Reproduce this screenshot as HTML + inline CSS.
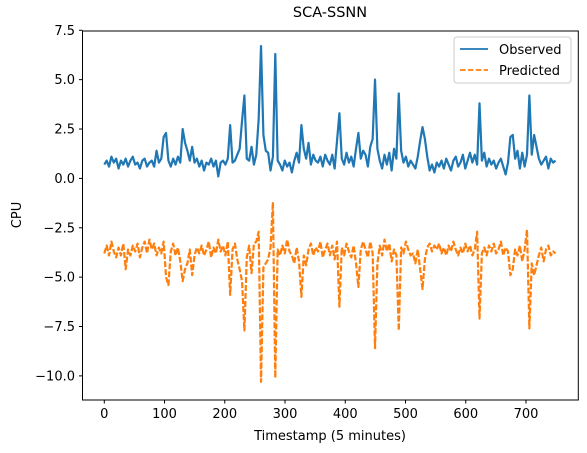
<!DOCTYPE html>
<html><head><meta charset="utf-8"><style>
body{margin:0;background:#fff}
svg{display:block;font-family:"DejaVu Sans","Liberation Sans",sans-serif}
</style></head><body>
<svg id="chart" width="587" height="453" viewBox="0 0 587 453">
<rect width="587" height="453" fill="#fff"/>
<text x="330" y="17" text-anchor="middle" font-size="14.5">SCA-SSNN</text>
<g id="series"></g>
<rect x="82.5" y="31" width="495.8" height="369" fill="none" stroke="#000" stroke-width="1"/>
<g id="xticks"></g><g id="yticks"></g>
<text x="330" y="440" text-anchor="middle" font-size="13">Timestamp (5 minutes)</text>
<text transform="translate(21,215) rotate(-90)" text-anchor="middle" font-size="13">CPU</text>
<g>
<rect x="454" y="37" width="117" height="46" rx="3" fill="#fff" fill-opacity="0.8" stroke="#ccc"/>
<g>
<line x1="460" y1="49" x2="488" y2="49" stroke="#1f77b4" stroke-width="1.8"/>
<text x="499" y="54" font-size="13">Observed</text></g>
<g>
<line x1="460" y1="70" x2="488" y2="70" stroke="#ff7f0e" stroke-width="1.8" stroke-dasharray="5.5,2.4"/>
<text x="499" y="75" font-size="13">Predicted</text></g>
</g>
</svg>
<script>
const xTicks=[0,100,200,300,400,500,600,700];
const yTicks=[7.5,5.0,2.5,0.0,-2.5,-5.0,-7.5,-10.0];
const lastTimestamp=749;
const observed=[0.7,0.9,0.6,1.1,0.8,1.0,0.5,0.9,0.7,1.0,
0.6,0.9,1.1,0.7,0.8,0.5,0.9,1.0,0.6,0.8,
0.9,0.6,1.4,0.8,1.0,2.1,2.3,0.9,0.6,1.0,
0.7,1.1,0.8,2.5,1.8,1.4,0.9,1.6,0.8,1.0,
0.6,0.9,0.4,0.8,0.7,1.0,0.6,0.9,0.1,0.8,
0.9,0.7,1.0,2.7,0.8,0.9,1.2,1.5,2.9,4.2,
1.0,0.9,1.6,0.7,1.2,3.0,6.7,2.2,1.4,1.3,
0.4,1.1,6.3,0.9,0.7,0.4,0.9,0.6,0.8,0.3,
0.9,1.3,0.8,2.7,1.5,1.0,1.8,0.7,1.2,0.9,
0.8,1.1,0.6,1.2,0.9,0.7,1.2,0.5,1.9,3.3,
1.0,0.7,1.3,0.8,1.1,0.6,1.5,2.3,1.0,1.4,
1.2,0.6,1.6,2.0,5.0,1.5,0.9,0.5,1.2,0.7,
1.3,0.4,1.5,1.0,4.3,1.4,0.8,1.1,0.6,0.9,
0.7,0.5,1.1,1.9,2.6,2.0,1.1,0.4,0.7,0.3,
0.8,0.6,0.9,0.5,1.0,0.7,0.4,0.9,1.1,0.6,
0.8,1.2,0.5,0.9,1.3,0.8,1.2,0.7,3.8,0.9,
1.3,0.6,1.0,0.7,0.9,0.5,0.8,1.0,0.6,0.2,
0.8,2.1,2.2,1.0,1.4,0.5,1.3,0.6,1.2,4.2,
1.2,2.2,1.6,1.0,0.7,0.9,1.1,0.5,1.0,0.8,0.9];
const predicted=[-3.8,-3.4,-3.9,-3.2,-3.7,-4.0,-3.5,-3.9,-3.3,-4.6,
-3.6,-3.9,-3.4,-3.7,-3.3,-4.0,-3.5,-3.2,-3.8,-3.1,
-3.6,-3.3,-3.9,-3.5,-3.8,-3.2,-5.0,-5.4,-3.7,-3.3,
-3.9,-3.5,-4.2,-5.2,-4.6,-4.3,-3.6,-4.9,-3.9,-3.5,
-3.8,-3.4,-3.9,-3.6,-3.2,-4.0,-3.5,-3.8,-3.1,-3.7,
-3.4,-3.9,-3.2,-5.9,-3.6,-3.3,-4.1,-4.6,-5.2,-7.7,
-4.0,-3.4,-4.8,-3.3,-3.2,-2.7,-10.3,-4.5,-4.3,-4.1,
-3.5,-1.2,-10.1,-3.6,-3.9,-3.4,-3.8,-3.1,-3.7,-3.9,
-4.3,-3.5,-4.2,-6.0,-3.9,-4.4,-3.6,-3.3,-3.9,-3.5,
-3.7,-3.2,-4.0,-3.6,-3.3,-3.9,-3.4,-4.1,-3.2,-6.5,
-3.5,-3.9,-3.3,-3.7,-4.0,-3.4,-4.3,-5.5,-3.6,-3.2,
-3.6,-4.0,-3.2,-3.8,-8.6,-4.3,-3.4,-3.9,-3.1,-3.7,
-3.3,-4.2,-3.6,-3.9,-7.7,-3.5,-3.8,-3.2,-3.6,-3.9,
-3.8,-4.3,-3.6,-4.6,-5.6,-4.1,-3.5,-3.3,-3.7,-3.4,
-3.6,-3.3,-3.8,-3.5,-3.9,-3.4,-3.7,-3.2,-3.6,-3.9,
-3.5,-3.8,-3.3,-3.7,-3.4,-3.9,-3.6,-2.7,-7.1,-3.8,
-3.5,-3.9,-3.4,-3.7,-3.3,-3.8,-3.6,-3.2,-3.9,-3.5,
-3.7,-4.9,-4.6,-3.6,-3.9,-3.4,-4.2,-3.6,-2.6,-7.6,
-4.3,-4.9,-4.4,-3.9,-3.5,-4.2,-3.6,-3.4,-3.9,-3.7,-3.8];

const NS='http://www.w3.org/2000/svg';
function xs(v){return 104.3+v*0.6024;}
function ys(v){return 178.4-v*19.75;}
function mk(tag,attrs,parent){const e=document.createElementNS(NS,tag);for(const k in attrs)e.setAttribute(k,attrs[k]);parent.appendChild(e);return e;}
function fmt(v){return (v<0?'\u2212':'')+Math.abs(v).toFixed(1);}
const ser=document.getElementById('series');
function drawLine(vals,color,dash,name){
  const n=vals.length;
  const pts=vals.map((v,i)=>xs(i*lastTimestamp/(n-1)).toFixed(2)+','+ys(v).toFixed(2)).join(' ');
  const p=mk('polyline',{points:pts,fill:'none',stroke:color,'stroke-width':2.2,'stroke-linejoin':'round'},ser);
  if(dash)p.setAttribute('stroke-dasharray',dash);
  
  
}
drawLine(observed,'#1f77b4',null,'observed-line');
drawLine(predicted,'#ff7f0e','6,2','predicted-line');
const xg=document.getElementById('xticks');
xTicks.forEach(t=>{
  const g=mk('g',{},xg);
  
  
  mk('line',{x1:xs(t),x2:xs(t),y1:400,y2:403.5,stroke:'#000'},g);
  const tx=mk('text',{x:xs(t),y:418,'text-anchor':'middle','font-size':13},g);tx.textContent=t;
});
const yg=document.getElementById('yticks');
yTicks.forEach(t=>{
  const g=mk('g',{},yg);
  
  
  mk('line',{x1:79,x2:82.5,y1:ys(t),y2:ys(t),stroke:'#000'},g);
  const tx=mk('text',{x:75,y:ys(t)+4.5,'text-anchor':'end','font-size':13},g);tx.textContent=fmt(t);
});
</script>
</body></html>
